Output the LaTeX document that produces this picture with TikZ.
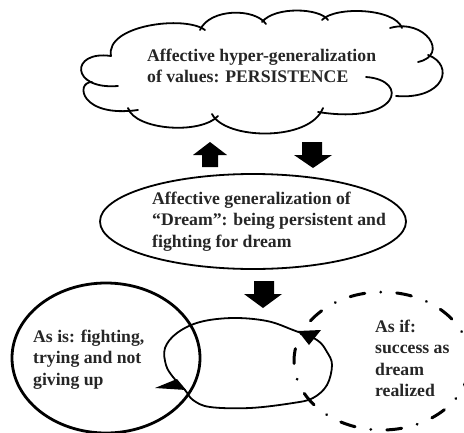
\documentclass[tikz,border=0pt]{standalone}
\usepackage{fontspec}
\setmainfont{Liberation Serif}
\begin{document}
\begin{tikzpicture}[x=1pt,y=-1pt,
  lbl/.style={font=\bfseries\fontsize{17.7}{21.5}\selectfont, align=left, anchor=north west, inner sep=0pt, text=black!85},
  lobe/.style={line width=1.8pt, line cap=round},
  thin/.style={line width=1.8pt},
  thick/.style={line width=2.8pt},
  dashdot/.style={line width=3pt, line cap=round, dash pattern=on 15pt off 16pt on 0.01pt off 16pt},
  blockarrow/.style={fill=black, draw=none}]
\useasboundingbox[fill=white] (0,0) rectangle (464,432);

% cloud lobes
\draw[lobe] (111,56) .. controls (105,25) and (185,15) .. (205,30);
\draw[lobe] (200,30) .. controls (210,8) and (255,8) .. (266,24);
\draw[lobe] (262,22) .. controls (275,6) and (320,8) .. (328,20);
\draw[lobe] (322,20) .. controls (335,6) and (395,8) .. (402,28);
\draw[lobe] (390,28) .. controls (425,18) and (450,55) .. (418,62);
\draw[lobe] (428,55) .. controls (455,65) and (445,100) .. (396,96);
\draw[lobe] (366,77) .. controls (410,80) and (400,125) .. (318,112);
\draw[lobe] (323,108) .. controls (310,142) and (225,140) .. (212,114);
\draw[lobe] (218,116) .. controls (200,135) and (135,130) .. (128,108);
\draw[lobe] (138,110) .. controls (80,118) and (75,82) .. (92,82);
\draw[lobe] (118,86) .. controls (70,90) and (70,50) .. (111,56);
\node[lbl] (cloudtext) at (147,48.5) {Affective hyper-generalization\\of values: PERSISTENCE};

% block arrows
\fill[blockarrow] (202,167) -- (202,155) -- (193,155) -- (210,142) -- (227,155) -- (218,155) -- (218,167) -- cycle;
\fill[blockarrow] (302,142) -- (322,142) -- (322,155) -- (332,155) -- (313,168) -- (294,155) -- (302,155) -- cycle;
\fill[blockarrow] (254,281) -- (274,281) -- (274,294) -- (282,294) -- (263,308) -- (244,294) -- (254,294) -- cycle;

% generalization ellipse
\draw[thin] (253,221.5) ellipse [x radius=153pt, y radius=47.5pt];
\node[lbl] (gentext) at (152,191.6) {Affective generalization of\\``Dream'': being persistent and\\fighting for dream};

% as is circle
\draw[thick] (106,358) ellipse [x radius=94pt, y radius=75pt];
\node[lbl] (asis) at (33,329.6) {As is: fighting,\\trying and not\\giving up};

% as if dash-dot circle
\draw[dashdot] (382,361) ellipse [x radius=88pt, y radius=69pt];
\node[lbl] (asif) at (375,319.6) {As if:\\success as\\dream\\realized};

% middle loop
\draw[thin] plot[smooth cycle, tension=0.6] coordinates {(165,348) (166,365) (173,377) (185,390) (193,400) (210,407) (250,408) (293,403) (313,398) (327,385) (332,365) (327,352) (317,340) (293,330) (267,321) (233,318) (200,322) (177,333)};
\fill (155,388) -- (177,379) -- (186,390) -- cycle;
\fill (298,331) -- (321,330) -- (309,345) -- cycle;
\end{tikzpicture}
\end{document}
